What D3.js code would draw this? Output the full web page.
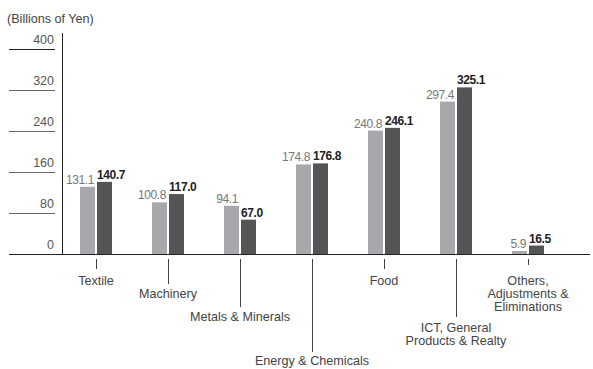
<!DOCTYPE html>
<html>
<head>
<meta charset="utf-8">
<script src="https://cdn.jsdelivr.net/npm/d3@7"></script>
<style>
  body { margin: 0; background: #fff; }
  text { font-family: "Liberation Sans", Arial, sans-serif; }
</style>
</head>
<body>
<div id="chart"></div>
<script>
// data
var categories = ["Textile", "Machinery", "Metals & Minerals", "Energy & Chemicals",
  "Food", "ICT, General\nProducts & Realty", "Others,\nAdjustments &\nEliminations"];
var prevValues = [131.1, 100.8, 94.1, 174.8, 240.8, 297.4, 5.9];
var currValues = [140.7, 117.0, 67.0, 176.8, 246.1, 325.1, 16.5];
var yTicks = [0, 80, 160, 240, 320, 400];

// layout for the staggered category labels (tick end y, label baseline y)
var tickEnds = [269, 284, 307, 352, 269, 317, 265];
var labelTops = [285, 298, 321, 365, 285, 332, 285];

var svgWidth = 593, svgHeight = 369;

var svg = d3.select("#chart")
  .append("svg")
  .attr("width", svgWidth)
  .attr("height", svgHeight);

var x = d3.scaleBand()
  .domain(categories)
  .range([60, 564]);

var y = d3.scaleLinear()
  .domain([0, 400])
  .range([254, 49]);

var barW = 15, gap = 2;

// title
svg.append("text")
  .attr("x", 7)
  .attr("y", 23)
  .attr("font-size", 12.6)
  .attr("fill", "#444")
  .text("(Billions of Yen)");

// y tick stubs + labels
var ticks = svg.append("g");
ticks.selectAll("line")
  .data(yTicks.filter(d => d > 0))
  .enter()
  .append("line")
  .attr("x1", 9)
  .attr("x2", 55)
  .attr("y1", d => Math.round(y(d)) + 0.5)
  .attr("y2", d => Math.round(y(d)) + 0.5)
  .attr("stroke", d => d === 400 ? "#222" : "#666")
  .attr("stroke-width", 1);

ticks.selectAll("text")
  .data(yTicks)
  .enter()
  .append("text")
  .attr("x", 54)
  .attr("y", d => y(d) - 5)
  .attr("text-anchor", "end")
  .attr("font-size", 12.5)
  .attr("fill", "#555")
  .text(d => d);

// vertical axis line
svg.append("line")
  .attr("x1", 62.5).attr("x2", 62.5)
  .attr("y1", 33).attr("y2", y(0))
  .attr("stroke", "#222");

// bars
var groups = svg.selectAll(".grp")
  .data(categories)
  .enter()
  .append("g")
  .attr("class", "grp");

groups.append("rect")
  .attr("x", (d, i) => x(d) + x.bandwidth() / 2 - gap / 2 - barW)
  .attr("y", (d, i) => y(prevValues[i]))
  .attr("width", barW)
  .attr("height", (d, i) => y(0) - y(prevValues[i]))
  .attr("fill", "#a7a8ab");

groups.append("rect")
  .attr("x", (d, i) => x(d) + x.bandwidth() / 2 + gap / 2)
  .attr("y", (d, i) => y(currValues[i]))
  .attr("width", barW)
  .attr("height", (d, i) => y(0) - y(currValues[i]))
  .attr("fill", "#545456");

// value labels
groups.append("text")
  .attr("x", (d, i) => x(d) + x.bandwidth() / 2 - 2)
  .attr("y", (d, i) => y(prevValues[i]) - 3)
  .attr("text-anchor", "end")
  .attr("font-size", 12)
  .attr("letter-spacing", -0.4)
  .attr("fill", "#777")
  .text((d, i) => prevValues[i].toFixed(1));

groups.append("text")
  .attr("x", (d, i) => x(d) + x.bandwidth() / 2 + 1)
  .attr("y", (d, i) => y(currValues[i]) - 3)
  .attr("font-size", 12)
  .attr("font-weight", "bold")
  .attr("letter-spacing", -0.4)
  .attr("fill", "#222")
  .text((d, i) => currValues[i].toFixed(1));

// baseline
svg.append("line")
  .attr("x1", 9).attr("x2", 590)
  .attr("y1", y(0) + 0.5).attr("y2", y(0) + 0.5)
  .attr("stroke", "#222");

// category ticks and labels
groups.append("line")
  .attr("x1", d => Math.round(x(d) + x.bandwidth() / 2) + 0.5)
  .attr("x2", d => Math.round(x(d) + x.bandwidth() / 2) + 0.5)
  .attr("y1", 259)
  .attr("y2", (d, i) => tickEnds[i])
  .attr("stroke", "#444");

groups.append("text")
  .attr("x", d => x(d) + x.bandwidth() / 2)
  .attr("y", (d, i) => labelTops[i])
  .attr("text-anchor", "middle")
  .attr("font-size", 12.6)
  .attr("fill", "#444")
  .selectAll("tspan")
  .data(d => d.split("\n"))
  .enter()
  .append("tspan")
  .attr("x", function() { return d3.select(this.parentNode).attr("x"); })
  .attr("dy", (d, i) => i === 0 ? 0 : 12.8)
  .text(d => d);
</script>
</body>
</html>
